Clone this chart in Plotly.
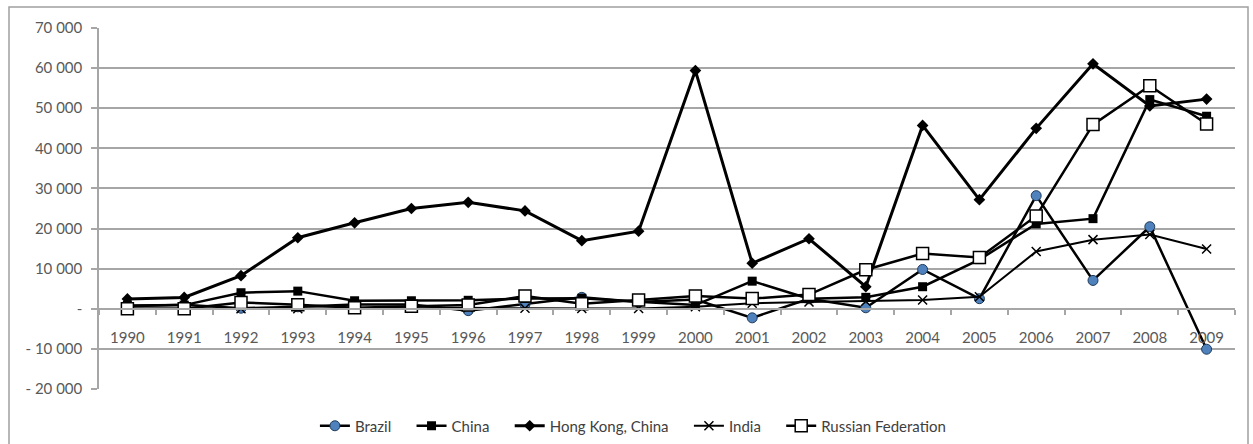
import plotly.graph_objects as go

years = [str(y) for y in range(1990, 2010)]
brazil = [625, 1014, 137, 491, 1037, 1096, -469, 1116, 2854, 1690, 2282, -2258, 2482, 249, 9807, 2517, 28202, 7067, 20457, -10084]
china = [830, 913, 4000, 4400, 2000, 2000, 2114, 2563, 2634, 1775, 916, 6885, 2518, 2855, 5498, 12261, 21160, 22469, 52150, 48000]
hongkong = [2448, 2825, 8254, 17713, 21437, 25000, 26531, 24407, 16985, 19358, 59375, 11345, 17463, 5492, 45716, 27201, 44979, 61081, 50581, 52269]
india = [6, -11, 24, 0, 82, 119, 240, 113, 47, 80, 514, 1397, 1678, 1876, 2175, 2985, 14285, 17234, 18499, 14897]
russia = [0, 0, 1566, 1022, 281, 606, 922, 3184, 1270, 2208, 3177, 2533, 3533, 9727, 13782, 12767, 23151, 45916, 55594, 46057]

ytickvals = [-20000, -10000, 0, 10000, 20000, 30000, 40000, 50000, 60000, 70000]
yticktext = ["- 20 000", "- 10 000", "-", "10 000", "20 000", "30 000", "40 000", "50 000", "60 000", "70 000"]

FONT = "Lato"
TXT = "#595959"
GRID = "#A6A6A6"
PAD = "\u00a0" * 4

fig = go.Figure()
fig.add_trace(go.Scatter(x=years, y=brazil, name="Brazil" + PAD, mode="lines+markers",
                         line=dict(color="black", width=2.5),
                         marker=dict(symbol="circle", size=10, color="#4F81BD",
                                     line=dict(color="#1F3B5A", width=1))))
fig.add_trace(go.Scatter(x=years, y=china, name="China" + PAD, mode="lines+markers",
                         line=dict(color="black", width=2.5),
                         marker=dict(symbol="square", size=9, color="black")))
fig.add_trace(go.Scatter(x=years, y=hongkong, name="Hong Kong, China" + PAD, mode="lines+markers",
                         line=dict(color="black", width=3),
                         marker=dict(symbol="diamond", size=9, color="black")))
fig.add_trace(go.Scatter(x=years, y=india, name="India" + PAD, mode="lines+markers",
                         line=dict(color="black", width=2),
                         marker=dict(symbol="x-thin", size=9, color="black",
                                     line=dict(color="black", width=1.5))))
fig.add_trace(go.Scatter(x=years, y=russia, name="Russian Federation", mode="lines+markers",
                         line=dict(color="black", width=2.5),
                         marker=dict(symbol="square", size=12, color="white",
                                     line=dict(color="black", width=1.5))))

L, R, T, B = 99, 18, 28, 55
W, H = 1253, 444
pw, ph = W - L - R, H - T - B
zero_frac = (0 - (-20000)) / 90000

fig.update_layout(
    width=W, height=H,
    margin=dict(l=L, r=R, t=T, b=B, autoexpand=False),
    paper_bgcolor="white", plot_bgcolor="white",
    font=dict(family=FONT, size=15, color=TXT),
    xaxis=dict(type="category", anchor="free", position=zero_frac,
               range=[-0.5, 19.5],
               showline=True, linecolor=GRID, linewidth=1.5,
               ticks="outside", ticklen=5, tickcolor=GRID, tickwidth=1.5,
               tickson="boundaries", showgrid=False, zeroline=False,
               ticklabelstandoff=15,
               tickfont=dict(family=FONT, size=15, color=TXT)),
    yaxis=dict(range=[-20000, 70000], tickvals=ytickvals, ticktext=yticktext,
               showgrid=True, gridcolor=GRID, gridwidth=1.5,
               showline=True, linecolor=GRID, linewidth=1.5,
               ticks="outside", ticklen=6, tickcolor=GRID, tickwidth=1.5,
               zeroline=False, ticklabelstandoff=6,
               tickfont=dict(family=FONT, size=15, color=TXT)),
    legend=dict(orientation="h", x=0.47, xanchor="center",
                y=(389 - 426) / ph, yanchor="middle",
                font=dict(family=FONT, size=15, color="#404040"),
                itemwidth=30, bgcolor="rgba(0,0,0,0)"),
    showlegend=True,
)

fig.add_shape(type="rect", xref="paper", yref="paper",
              x0=(9 - L) / pw, x1=(1248 - L) / pw,
              y0=(H - B - 450) / ph, y1=(H - B - 7) / ph,
              line=dict(color="#A0A0A0", width=1.5), layer="below")

fig.write_html("out.html", config={"displayModeBar": False},
               post_script="document.body.style.margin='0';")
